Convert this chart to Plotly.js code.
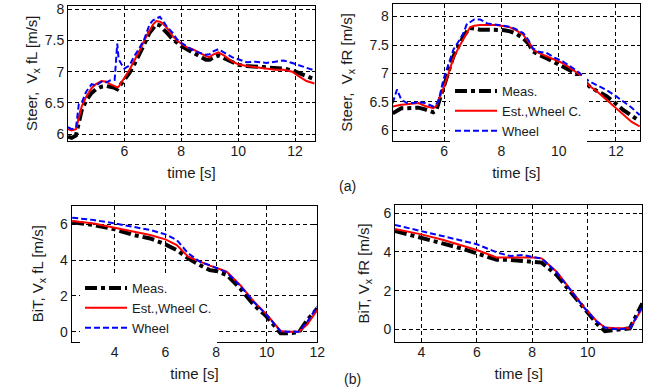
<!DOCTYPE html>
<html>
<head>
<meta charset="utf-8">
<script src="https://cdn.plot.ly/plotly-3.0.1.min.js"></script>
<style>html,body{margin:0;padding:0;background:#fff;}#chart{width:660px;height:389px;}</style>
</head>
<body>
<div id="chart"></div>
<script>
// ---- Data ----
const seriesNames = ["Meas.", "Est.,Wheel C.", "Wheel"];

// (a) Steer, front-left
const tSteerFL = [4.02,4.15,4.3,4.4,4.5,4.66,4.85,5.0,5.2,5.37,5.5,5.66,5.75,5.8,5.9,6.0,6.18,6.35,6.53,6.7,6.88,7.0,7.12,7.25,7.35,7.5,7.7,7.85,8.0,8.2,8.4,8.6,8.87,9.0,9.1,9.3,9.5,9.8,10.0,10.3,10.6,11.0,11.3,11.6,11.9,12.15,12.4,12.68];
const measSteerFL = [5.96,5.94,5.98,6.15,6.38,6.54,6.66,6.72,6.76,6.77,6.76,6.74,6.72,6.75,6.80,6.86,6.98,7.12,7.27,7.44,7.62,7.70,7.76,7.74,7.70,7.62,7.52,7.46,7.41,7.36,7.31,7.26,7.19,7.19,7.22,7.26,7.22,7.15,7.11,7.09,7.08,7.07,7.06,7.05,7.02,6.97,6.93,6.88];
const estSteerFL = [6.08,6.06,6.08,6.25,6.44,6.60,6.74,6.80,6.85,6.84,6.80,6.77,6.75,6.76,6.84,6.90,7.03,7.17,7.33,7.50,7.66,7.75,7.81,7.80,7.77,7.70,7.57,7.50,7.45,7.39,7.36,7.31,7.25,7.23,7.27,7.31,7.26,7.16,7.12,7.09,7.07,7.05,7.03,7.03,7.00,6.92,6.85,6.81];
const wheelSteerFL = [6.11,6.08,6.10,6.48,6.50,6.68,6.80,6.78,6.84,6.83,6.86,6.87,7.45,7.20,7.12,7.05,7.10,7.25,7.38,7.52,7.75,7.82,7.85,7.88,7.82,7.72,7.62,7.52,7.46,7.40,7.35,7.31,7.27,7.28,7.32,7.36,7.31,7.23,7.20,7.15,7.16,7.14,7.16,7.18,7.14,7.10,7.06,7.02];

// (a) Steer, front-right
const tSteerFR = [4.2,4.35,4.5,4.7,4.92,5.1,5.33,5.5,5.62,5.72,5.8,5.97,6.15,6.32,6.5,6.67,6.8,6.9,7.05,7.25,7.5,7.83,8.1,8.3,8.5,8.76,8.95,9.1,9.3,9.57,9.85,10.15,10.45,10.73,10.9,11.08,11.35,11.67,11.95,12.25,12.55,12.83];
const measSteerFR = [6.30,6.35,6.39,6.39,6.39,6.40,6.37,6.35,6.32,6.35,6.48,6.77,7.02,7.30,7.48,7.65,7.74,7.80,7.79,7.77,7.77,7.77,7.76,7.74,7.70,7.62,7.52,7.39,7.33,7.27,7.20,7.12,7.04,6.95,6.86,6.77,6.69,6.60,6.49,6.36,6.26,6.16];
const estSteerFR = [6.42,6.44,6.45,6.46,6.47,6.48,6.43,6.41,6.39,6.43,6.52,6.74,7.00,7.27,7.45,7.59,7.72,7.81,7.84,7.85,7.85,7.85,7.83,7.81,7.76,7.68,7.55,7.42,7.36,7.30,7.24,7.18,7.08,6.98,6.88,6.78,6.68,6.54,6.41,6.27,6.15,6.07];
const wheelSteerFR = [6.48,6.72,6.54,6.48,6.48,6.50,6.48,6.45,6.42,6.46,6.51,6.89,7.15,7.42,7.56,7.71,7.88,7.90,7.95,7.95,7.88,7.85,7.83,7.82,7.78,7.71,7.58,7.44,7.38,7.36,7.28,7.21,7.11,7.01,6.92,6.86,6.79,6.71,6.62,6.51,6.40,6.27];

// (b) BiT, front-left
const tBitFL = [2.32,3.17,4.0,4.75,5.4,6.0,6.45,6.9,7.36,7.75,8.0,8.42,8.95,9.5,10.0,10.3,10.55,10.8,11.27,11.6,12.0];
const measBitFL = [6.11,5.96,5.72,5.40,5.21,4.88,4.56,4.10,3.72,3.44,3.39,3.17,2.42,1.49,0.84,0.37,-0.09,-0.09,-0.04,0.65,1.30];
const estBitFL = [6.18,6.05,5.81,5.59,5.40,5.16,4.84,4.19,3.91,3.69,3.58,3.35,2.61,1.68,0.97,0.47,0.04,0.00,0.00,0.40,1.21];
const wheelBitFL = [6.37,6.24,6.05,5.87,5.68,5.44,5.12,4.38,3.91,3.72,3.58,3.31,2.57,1.64,0.93,0.40,0.02,0.00,0.00,0.55,1.40];

// (b) BiT, front-right
const tBitFR = [3.05,4.0,4.8,5.51,6.0,6.6,6.72,7.2,7.68,8.0,8.34,8.88,9.36,9.84,10.32,10.62,11.04,11.52,11.97];
const measBitFR = [5.09,4.74,4.45,4.16,3.93,3.64,3.60,3.59,3.55,3.53,3.45,2.81,1.95,1.09,0.31,-0.09,-0.03,0.05,1.34];
const estBitFR = [5.19,4.91,4.62,4.33,4.10,3.78,3.71,3.71,3.71,3.71,3.67,2.98,2.09,1.17,0.43,0.09,0.05,0.05,1.09];
const wheelBitFR = [5.40,5.09,4.84,4.57,4.40,4.05,3.98,3.79,3.85,3.74,3.67,2.95,2.03,1.17,0.40,0.09,0.00,0.05,1.17];

const xTitle = "time [s]";
const yTitles = ["Steer,  V<sub>x</sub> fL [m/s]", "Steer,  V<sub>x</sub> fR [m/s]", "BiT, V<sub>x</sub> fL [m/s]", "BiT, V<sub>x</sub> fR [m/s]"];

// ---- Styles ----
const lineStyles = [
  {color: "#000000", width: 4, dash: "12px,4px,4px,4px"},
  {color: "#ff0000", width: 2, dash: "solid"},
  {color: "#0000ff", width: 2, dash: "6px,3px"}
];
const FONT = "Liberation Sans, Arial, sans-serif";

function panelTraces(t, ys, xa, ya, legendName) {
  return ys.map((y, i) => ({
    type: "scatter", mode: "lines", x: t, y: y,
    name: seriesNames[i], xaxis: xa, yaxis: ya,
    line: lineStyles[i],
    showlegend: !!legendName,
    legend: legendName || "legend",
    hoverinfo: "skip"
  }));
}

const data = [].concat(
  panelTraces(tSteerFL, [measSteerFL, estSteerFL, wheelSteerFL], "x", "y", null),
  panelTraces(tSteerFR, [measSteerFR, estSteerFR, wheelSteerFR], "x2", "y2", "legend"),
  panelTraces(tBitFL, [measBitFL, estBitFL, wheelBitFL], "x3", "y3", "legend2"),
  panelTraces(tBitFR, [measBitFR, estBitFR, wheelBitFR], "x4", "y4", null)
);

function ax(domain, range, dtick, title, anchor, standoff, isX) {
  const a = {
    domain: domain, range: range, dtick: dtick, tick0: 0,
    showline: true, linecolor: "#000", linewidth: 1, mirror: "ticks",
    ticks: "inside", ticklen: 3, tickcolor: "#000",
    showgrid: true, gridcolor: "#000", gridwidth: 1, griddash: "4px,3px",
    zeroline: false, anchor: anchor,
    tickfont: {family: FONT, size: 14, color: "#1a1a1a"},
    title: {text: title, font: {family: FONT, size: 15, color: "#1a1a1a"}, standoff: standoff}
  };
  if (isX) a.ticklabelstandoff = -3;
  return a;
}

const W = 660, H = 389, MT = 3;
const dx = (a, b) => [a / W, b / W];
const dy = (top, bot) => [1 - (bot - MT) / (H - MT), 1 - (top - MT) / (H - MT)];

const layout = {
  width: W, height: H,
  margin: {l: 0, r: 0, t: MT, b: 0},
  paper_bgcolor: "#fff", plot_bgcolor: "#fff",
  showlegend: true,
  xaxis: ax(dx(68, 315), [4.02, 12.7], 2, xTitle, "y", 9, true),
  yaxis: ax(dy(5.5, 141), [5.89, 8.06], 0.5, yTitles[0], "x", 3),
  xaxis2: ax(dx(392.7, 640), [4.2, 12.84], 2, xTitle, "y2", 9, true),
  yaxis2: ax(dy(4, 140.7), [5.82, 8.22], 0.5, yTitles[1], "x2", 13),
  xaxis3: ax(dx(71.7, 317.3), [2.3, 12.0], 2, xTitle, "y3", 9, true),
  yaxis3: ax(dy(205.7, 341.7), [-0.56, 7.04], 2, yTitles[2], "x3", 12),
  xaxis4: ax(dx(395, 642.3), [3.05, 11.97], 2, xTitle, "y4", 9, true),
  yaxis4: ax(dy(205, 341.7), [-0.64, 6.43], 2, yTitles[3], "x4", 10),
  legend: {
    x: 450 / W, y: 1 - (76 - MT) / (H - MT), xanchor: "left", yanchor: "top",
    bgcolor: "#fff", borderwidth: 0, itemwidth: 42,
    font: {family: FONT, size: 13, color: "#1a1a1a"},
    tracegroupgap: 0
  },
  legend2: {
    x: 80 / W, y: 1 - (273 - MT) / (H - MT), xanchor: "left", yanchor: "top",
    bgcolor: "#fff", borderwidth: 0, itemwidth: 42,
    font: {family: FONT, size: 13, color: "#1a1a1a"},
    tracegroupgap: 0
  },
  annotations: [
    {text: "(a)", x: 347 / W, y: 1 - (186 - MT) / (H - MT), xref: "paper", yref: "paper", showarrow: false,
     yanchor: "middle", font: {family: FONT, size: 14, color: "#1a1a1a"}},
    {text: "(b)", x: 353 / W, y: 1 - (379 - MT) / (H - MT), xref: "paper", yref: "paper", showarrow: false,
     yanchor: "middle", font: {family: FONT, size: 14, color: "#1a1a1a"}}
  ]
};

Plotly.newPlot("chart", data, layout, {staticPlot: true, displayModeBar: false});
</script>
</body>
</html>
